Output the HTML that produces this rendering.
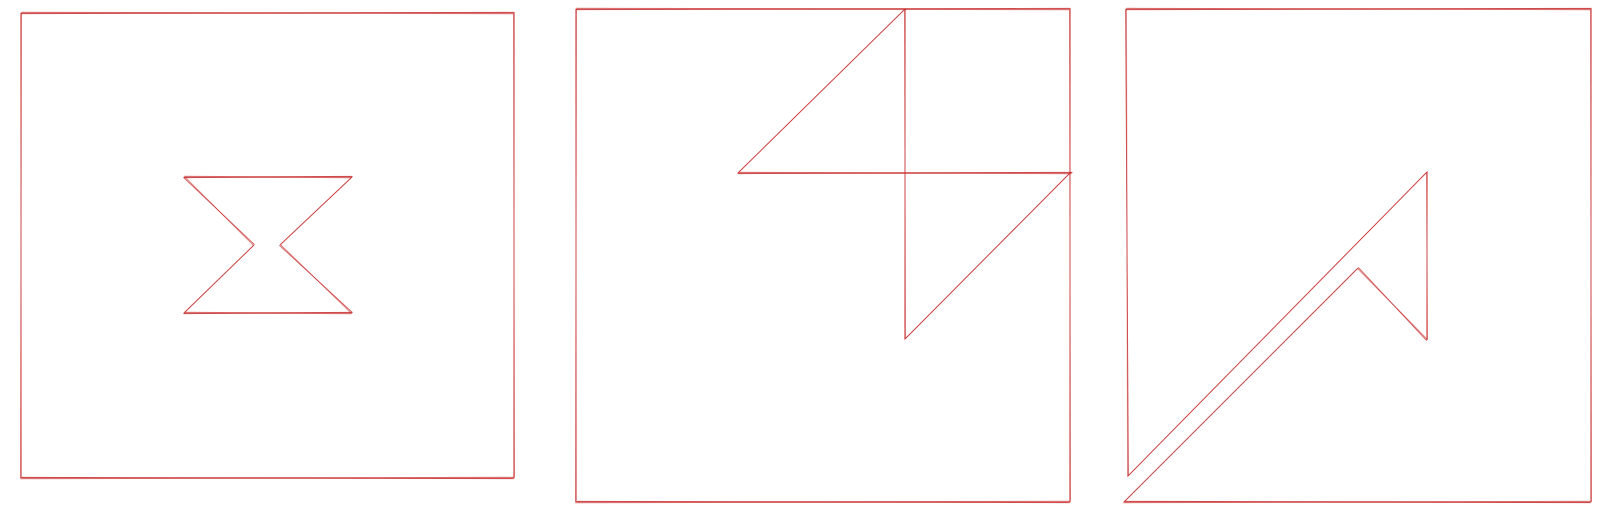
<!DOCTYPE html>
<html><head><meta charset="utf-8"><style>html,body{margin:0;padding:0;background:#fff;overflow:hidden}svg{display:block}</style></head>
<body>
<svg id="c" width="1619" height="510" viewBox="0 0 1619 510"></svg>
<script>
const panel1 = [[21,13,514,13],[514,13,514,478],[514,478,21,478],[21,478,21,13],
 [184,177,352,177],[184,177,254,245],[352,177,280,245],[280,245,352,313],[254,245,184,313],[184,313,352,313]];
const panel2 = [[576,9,1070,9],[1070,9,1070,502],[1070,502,576,502],[576,502,576,9],
 [905,9,738,173],[738,173,1072,173],[905,9,905,339],[905,339,1070,173]];
const panel3 = [[1126,9,1591,9],[1591,9,1591,502],[1591,502,1124,502],[1126,9,1128,476],
 [1128,476,1427,172],[1427,172,1427,340],[1427,340,1358,268],[1358,268,1124,502]];
const svg = document.getElementById('c');
const NS = 'http://www.w3.org/2000/svg';
function draw(list, name){
  const g = document.createElementNS(NS,'g');
  
  
  svg.appendChild(g);
  list.forEach(s=>{
    const horiz = Math.abs(s[3]-s[1]) < 2;
    for (let k=0;k<2;k++){
      const l = document.createElementNS(NS,'line');
      const o = k ? 0.5 : -0.4;
      l.setAttribute('x1', s[0]+o); l.setAttribute('y1', s[1]-o);
      l.setAttribute('x2', s[2]-o); l.setAttribute('y2', s[3]+o);
      l.setAttribute('stroke', '#c62828');
      l.setAttribute('stroke-opacity', k ? 0.55 : 0.8);
      l.setAttribute('stroke-width', horiz ? 1.4 : 0.9);
      
      
      g.appendChild(l);
    }
  });
}
draw(panel1,'panel-hourglass');
draw(panel2,'panel-bolt');
draw(panel3,'panel-arrow');
</script>
</body></html>
